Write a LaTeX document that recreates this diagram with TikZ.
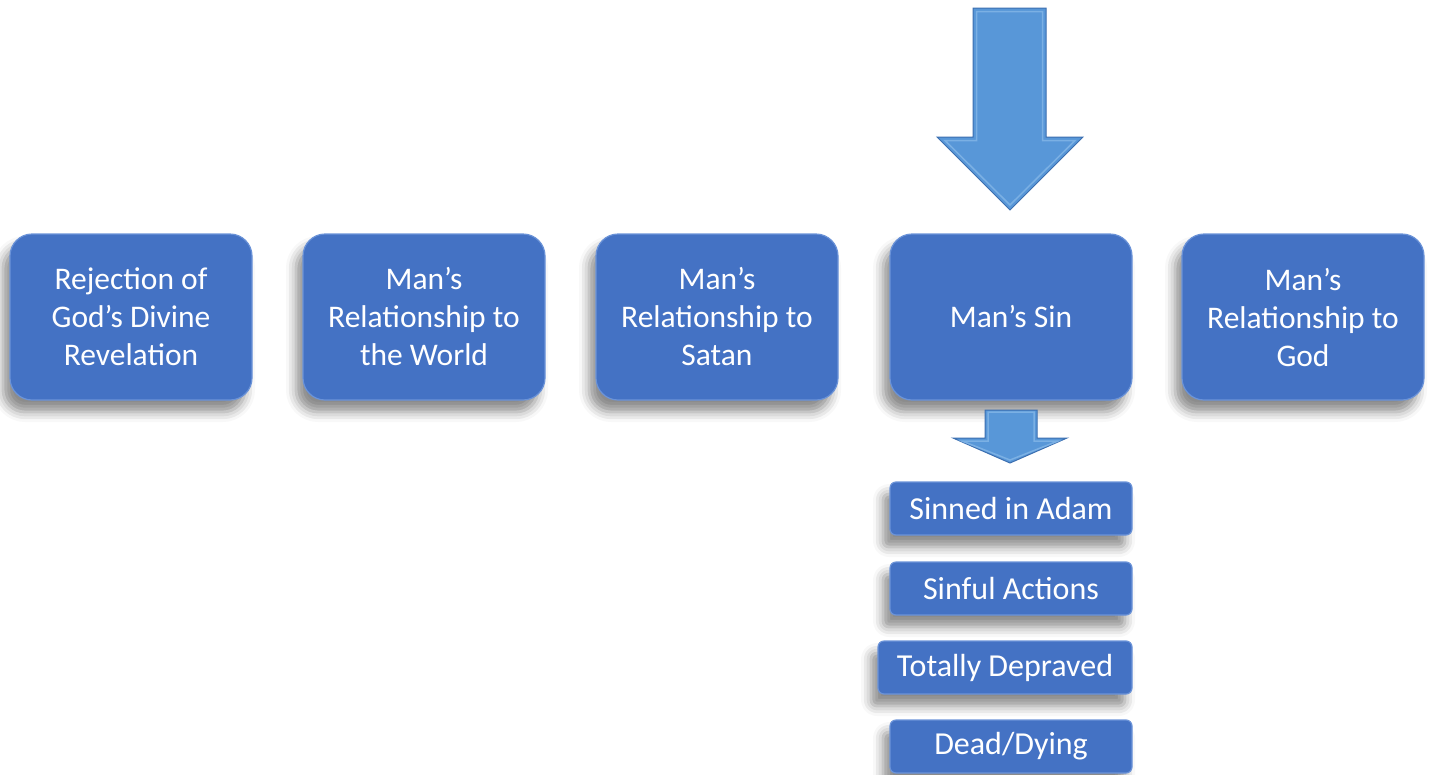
\documentclass[tikz,border=0pt]{standalone}
\usepackage{fontspec}
\setmainfont{Carlito}
\usetikzlibrary{shadows.blur}
\definecolor{boxblue}{HTML}{4472C4}
\definecolor{rimblue}{HTML}{6B93D8}
\definecolor{arrowblue}{HTML}{5897D8}
\definecolor{arrowedge}{HTML}{3C6FB0}
\definecolor{arrowlight}{HTML}{7BB0E4}
\tikzset{
  boxshadow/.style={blur shadow={shadow xshift=-7pt, shadow yshift=-12pt, shadow blur radius=10pt, shadow opacity=45}},
  bigbox/.style={rounded corners=22pt, fill=boxblue, draw=rimblue, line width=1.2pt,
    minimum width=242pt, minimum height=166pt, text=white, align=center, inner sep=0pt,
    font=\fontsize{31.5}{38}\selectfont, boxshadow},
  smallbox/.style={rounded corners=6pt, fill=boxblue, draw=rimblue, line width=1.2pt,
    minimum width=242pt, minimum height=53pt, text=white, align=center, inner sep=0pt,
    font=\fontsize{32}{38}\selectfont, boxshadow},
  blockarrow/.style={fill=arrowblue, draw=arrowedge, line width=1pt, line join=miter},
  arrowrim/.style={draw=arrowlight, line width=1.5pt, line join=miter}
}
\begin{document}
\begin{tikzpicture}[x=1pt,y=-1pt]
\useasboundingbox (0,0) rectangle (1429,774);
\node[bigbox] (b1) at (131,317) {Rejection of\\God’s Divine\\Revelation};
\node[bigbox] (b2) at (424,317) {Man’s\\Relationship to\\the World};
\node[bigbox] (b3) at (717,317) {Man’s\\Relationship to\\Satan};
\node[bigbox] (b4) at (1011,317) {Man’s Sin};
\node[bigbox] (b5) at (1303,317) {Man’s\\Relationship to\\God};
\node[smallbox] (s1) at (1011,508.5) {Sinned in Adam};
\node[smallbox] (s2) at (1011,588.5) {Sinful Actions};
\node[smallbox, minimum width=254pt] (s3) at (1005,667.5) {Totally Depraved};
\node[smallbox] (s4) at (1011,746.5) {Dead/Dying};
% big block arrow
\draw[blockarrow] (973,8) -- (1046,8) -- (1046,137) -- (1083,137) -- (1010,210) -- (937,137) -- (973,137) -- cycle;
\draw[arrowrim] (976.5,11.5) -- (1042.5,11.5) -- (1042.5,140.5) -- (1075,140.5) -- (1010,205) -- (945,140.5) -- (976.5,140.5) -- cycle;
% small block arrow
\draw[blockarrow] (985,410) -- (1037,410) -- (1037,438) -- (1067,438) -- (1010,463) -- (953,438) -- (985,438) -- cycle;
\draw[arrowrim] (988,412) -- (1034,412) -- (1034,441) -- (1058,441) -- (1010,460) -- (962,441) -- (988,441) -- cycle;
\end{tikzpicture}
\end{document}
